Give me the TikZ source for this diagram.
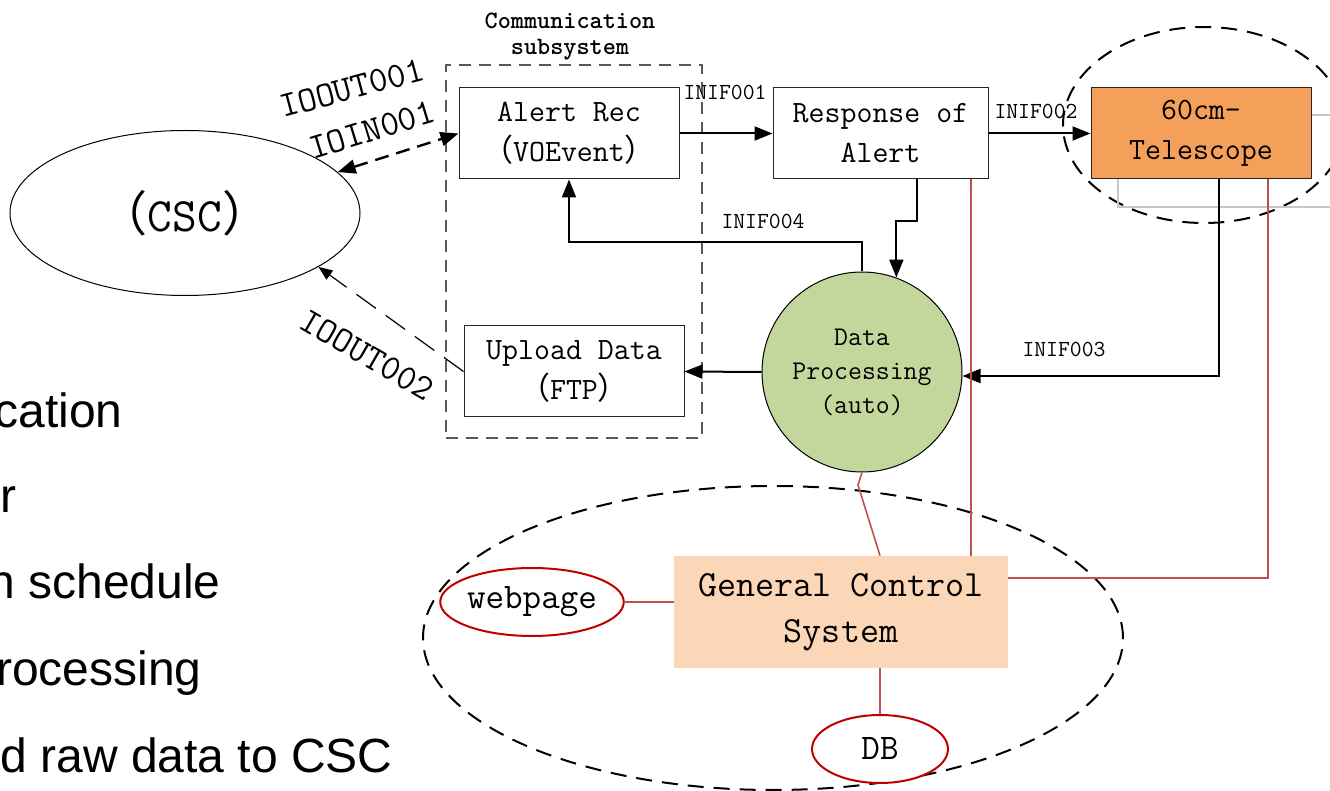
\documentclass[tikz,border=0pt]{standalone}
\usepackage{fontspec}
\newfontfamily\cjk{Noto Sans CJK SC}
\newfontfamily\slidefont{Liberation Sans}
\usetikzlibrary{arrows.meta,shapes.geometric}
\definecolor{teleorange}{HTML}{F5A05A}
\definecolor{gcspeach}{HTML}{FBD6B7}
\definecolor{dpgreen}{HTML}{C3D69B}
\definecolor{linkred}{HTML}{C0504D}
\definecolor{endred}{HTML}{C00000}
\newcommand\fwl{{\cjk （}}
\newcommand\fwr{{\cjk ）}}
\begin{document}
\begin{tikzpicture}[x=0.5pt,y=-0.5pt]
    \tikzstyle{block}=[draw=black!85,line width=0.5pt,inner sep=0pt,minimum height=45.5pt,align=center,font=\ttfamily\fontsize{15.5}{20}\selectfont]
    \tikzstyle{group}=[draw,ellipse,line width=1pt,dash pattern=on 8pt off 5pt,inner sep=0pt]
    \tikzstyle{endpoint}=[draw=endred,fill=white,line width=1pt,ellipse,inner sep=0pt,font=\ttfamily\fontsize{18}{20}\selectfont]
    \tikzstyle{flow}=[line width=1pt,-{Triangle[length=9pt,width=7pt]}]
    \tikzstyle{link}=[draw=linkred,line width=0.8pt]
    \tikzstyle{ghost}=[draw=black!22,line width=0.8pt]
    \tikzstyle{tag}=[font=\ttfamily\fontsize{11.5}{12}\selectfont,inner sep=0pt]
    \tikzstyle{iotag}=[font=\ttfamily\fontsize{18}{20}\selectfont,inner sep=0pt]
    \tikzstyle{slide}=[font=\slidefont\fontsize{24}{28}\selectfont,anchor=base east,inner sep=0pt]

    \useasboundingbox (0,0) rectangle (1330,791);
    \clip (0,0) rectangle (1330,791);

    \node[group,minimum width=141pt,minimum height=98pt] at (1204,125) (telgroup) {};
    \node[group,minimum width=350pt,minimum height=152pt] at (773,638) (ctrlgroup) {};
    \node[draw=black!65,line width=0.6pt,dash pattern=on 6pt off 4pt,minimum width=128pt,minimum height=186.5pt] at (574,251.5) (comm) {};
    \node[font=\ttfamily\bfseries\fontsize{12.5}{13}\selectfont,align=center,inner sep=0pt] at (570,37) (commtitle) {Communication\\subsystem};

    \node[ellipse,draw,line width=0.5pt,inner sep=0pt,minimum width=175pt,minimum height=82.5pt,font=\ttfamily\fontsize{24}{26}\selectfont] at (185,213) (csc) {\fwl CSC\fwr};
    \node[block,minimum width=110pt] at (569,133.5) (alert) {Alert Rec\\\fwl VOEvent\fwr};
    \node[block,minimum width=107.5pt] at (880.5,133.5) (resp) {Response of\\Alert};
    \node[block,fill=teleorange,minimum width=110pt] at (1201,133.5) (tel) {60cm-\\Telescope};
    \node[block,minimum width=110pt] at (574,371.5) (upload) {Upload Data\\\fwl FTP\fwr};
    \node[circle,draw,line width=0.5pt,fill=dpgreen,inner sep=0pt,minimum size=100pt,align=center,font=\ttfamily\fontsize{13.5}{17}\selectfont] at (862,372) (dp) {Data\\Processing\\(auto)};
    \node[fill=gcspeach,inner sep=0pt,minimum width=167pt,minimum height=56pt,align=center,font=\ttfamily\fontsize{18.5}{23}\selectfont] at (841,612) (gcs) {General Control\\System};
    \node[endpoint,minimum width=88pt,minimum height=34pt] at (532,602) (web) {webpage};
    \node[endpoint,minimum width=68pt,minimum height=34pt] at (880,749) (db) {DB};

    \coordinate (g1) at (1118,207);
    \coordinate (g2) at (1330,207);
    \coordinate (g3) at (1330,115);
    \draw[ghost] (tel.south -| g1) -- (g1) -- (g2);
    \draw[ghost] (tel.east |- g3) -- (g3);

    \draw[flow] (alert.east) -- (resp.west);
    \draw[flow] (resp.east) -- (tel.west);
    \coordinate (k1) at (917,221);
    \draw[flow] (resp.south -| k1) -- (k1) -| (dp.70);
    \coordinate (k2) at (862,242);
    \draw[flow] (dp.north) -- (k2) -| (alert.south);
    \coordinate (k3) at (1219,376);
    \draw[flow] (tel.south -| k3) -- (k3) -- (k3 -| dp.east);
    \draw[flow] (dp.west) -- (upload.east);
    \draw[line width=1.2pt,dash pattern=on 7pt off 4pt,{Triangle[length=9pt,width=7pt]}-{Triangle[length=9pt,width=7pt]}] (csc.15) -- (alert.west);
    \draw[line width=0.6pt,dash pattern=on 12pt off 6pt,-{Triangle[length=7pt,width=5.5pt]}] (upload.west) -- (csc.-22);

    \draw[link] (web.east) -- (web.east -| gcs.west);
    \draw[link] (gcs.south -| db.north) -- (db.north);
    \coordinate (k4) at (858,485);
    \draw[link] (dp.south) -- (k4) -- (gcs.north -| db.north);
    \coordinate (r1) at (971,400);
    \draw[link] (resp.south -| r1) -- (gcs.north -| r1);
    \coordinate (r2) at (1268,578);
    \draw[link] (tel.south -| r2) -- (r2) -- (r2 -| gcs.east);

    \node[tag] at (725,92) (inif1) {INIF001};
    \node[tag] at (1036,111) (inif2) {INIF002};
    \node[tag] at (1064,349) (inif3) {INIF003};
    \node[tag] at (763,221) (inif4) {INIF004};
    \node[iotag,rotate=15] at (352,88) (ioout1) {IOOUT001};
    \node[iotag,rotate=17] at (372,130) (ioin1) {IOIN001};
    \node[iotag,rotate=-30] at (367,355) (ioout2) {IOOUT002};

    \node[slide] at (123,428) (line1) {cation};
    \node[slide] at (17,513) (line2) {r};
    \node[slide] at (221,598) (line3) {n schedule};
    \node[slide] at (202,685) (line4) {rocessing};
    \node[slide] at (393,772) (line5) {d raw data to CSC};
\end{tikzpicture}
\end{document}
